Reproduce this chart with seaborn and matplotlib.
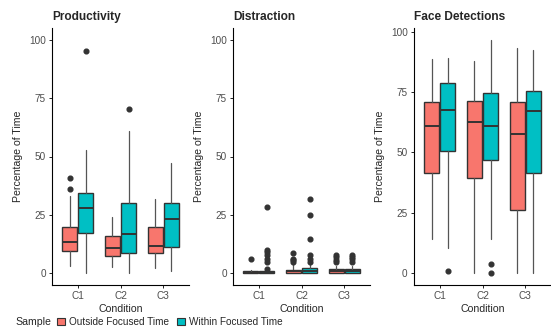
import matplotlib
matplotlib.use("Agg")
import matplotlib.pyplot as plt
from matplotlib.patches import Patch
from matplotlib.offsetbox import HPacker
import seaborn as sns

# five-number summaries per condition: [whisker low, q1, median, q3, whisker high]
conditions = ["C1", "C2", "C3"]
samples = ["Outside Focused Time", "Within Focused Time"]
colors = ["#F8766D", "#00BFC4"]

prod_outside = [[3.1, 9.7, 13.5, 19.7, 33.1], [2.8, 7.4, 10.8, 16.1, 24.2], [2.4, 8.7, 11.7, 19.9, 32.0]]
prod_within = [[0.0, 17.3, 27.9, 34.5, 52.7], [0.0, 8.8, 16.8, 29.9, 61.0], [1.0, 11.4, 23.2, 29.9, 47.2]]
prod_out_fliers = [[40.8, 36.2], [], []]
prod_in_fliers = [[95.1], [70.2], []]

dist_outside = [[0.0, 0.0, 0.3, 0.8, 1.4], [0.0, 0.0, 0.9, 1.4, 3.9], [0.0, 0.0, 1.0, 1.7, 3.2]]
dist_within = [[0.0, 0.0, 0.2, 0.8, 1.0], [0.0, 0.0, 0.8, 2.4, 3.8], [0.0, 0.0, 1.0, 2.0, 3.2]]
dist_out_fliers = [[6.1], [8.6, 6.2, 5.5, 4.8], [7.7, 6.8, 5.8, 4.8]]
dist_in_fliers = [[28.2, 10.0, 9.0, 7.8, 6.2, 4.8, 2.0], [31.8, 25.1, 14.5, 7.8, 6.3, 5.0], [8.0, 7.0, 6.0, 5.0]]

face_outside = [[14.4, 41.7, 61.1, 71.0, 88.8], [0.0, 39.3, 62.8, 71.2, 87.7], [0.0, 26.0, 57.8, 70.8, 93.1]]
face_within = [[10.6, 50.5, 67.7, 78.7, 89.1], [14.3, 47.0, 60.8, 74.4, 96.7], [0.0, 41.3, 67.2, 75.6, 92.4]]
face_out_fliers = [[], [], []]
face_in_fliers = [[1.0], [3.8, 0.0], []]

panels = [
    ("Productivity", prod_outside, prod_within, prod_out_fliers, prod_in_fliers, (-5, 105)),
    ("Distraction", dist_outside, dist_within, dist_out_fliers, dist_in_fliers, (-5, 105)),
    ("Face Detections", face_outside, face_within, face_out_fliers, face_in_fliers, (-4.84, 101.5)),
]

sns.set_theme(style="ticks")
plt.rcParams["font.family"] = ["Liberation Sans", "DejaVu Sans"]

fig = plt.figure(figsize=(5.51, 3.31), dpi=100)
lefts = [52, 233, 414]
W, H = 551, 331
for (title, outside, within, ofl, ifl, ylim), left in zip(panels, lefts):
    ax = fig.add_axes([left / W, (H - 285) / H, 137 / W, 257 / H])
    for k, (series, fl) in enumerate([(outside, ofl), (within, ifl)]):
        stats = []
        for five, f in zip(series, fl):
            stats.append(dict(whislo=five[0], q1=five[1], med=five[2], q3=five[3],
                              whishi=five[4], fliers=f))
        pos = [i + 1 + (k - 0.5) * 0.375 for i in range(len(series))]
        ax.bxp(stats, positions=pos, widths=0.34, patch_artist=True, showcaps=False,
               boxprops=dict(facecolor=colors[k], edgecolor="#333333", linewidth=1.0),
               medianprops=dict(color="#333333", linewidth=1.4),
               whiskerprops=dict(color="#555555", linewidth=0.9),
               flierprops=dict(marker="o", markerfacecolor="#333333", markeredgecolor="#333333",
                               markersize=3.4, linestyle="none"))
    ax.set_xlim(0.4, 3.6)
    ax.set_ylim(*ylim)
    ax.set_xticks([1, 2, 3])
    ax.set_xticklabels(conditions)
    ax.set_yticks([0, 25, 50, 75, 100])
    ax.tick_params(labelsize=7.2, length=2.5, width=0.6, color="black", labelcolor="#4d4d4d", pad=2)
    ax.set_xlabel("Condition", fontsize=7.6, labelpad=2)
    ax.set_ylabel("Percentage of Time", fontsize=7.6, labelpad=4)
    ax.set_title(title, fontsize=8.6, fontweight="bold", loc="left", pad=6)
    for s in ["left", "bottom"]:
        ax.spines[s].set_color("black")
        ax.spines[s].set_linewidth(0.8)
    sns.despine(ax=ax)

handles = [Patch(facecolor=c, edgecolor="#333333", linewidth=0.8) for c in colors]
leg = fig.legend(handles, samples, loc="lower left", bbox_to_anchor=(0.012, -0.015), ncol=2,
                 frameon=False, fontsize=7.2, title="Sample", title_fontsize=7.6,
                 handlelength=0.8, handleheight=0.8, handletextpad=0.4, columnspacing=0.8)
# put the legend title beside the keys, as in ggplot's bottom legend
leg._legend_box._children = [HPacker(children=[leg._legend_title_box, leg._legend_handle_box],
                                     pad=0, sep=4, align="center")]

fig.savefig("out.png", dpi=100)
